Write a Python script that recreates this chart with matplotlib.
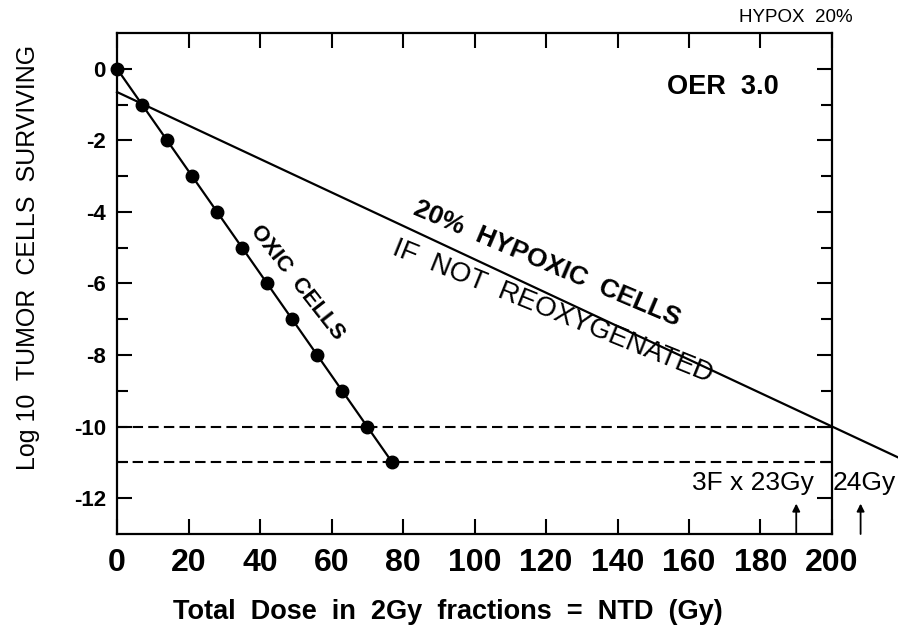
import matplotlib
matplotlib.use('Agg')
import matplotlib.pyplot as plt

plt.rcParams['font.family'] = ['Liberation Sans', 'DejaVu Sans']
plt.rcParams['axes.unicode_minus'] = False

# surviving fraction data (log10)
oxic_dose = [0, 7, 14, 21, 28, 35, 42, 49, 56, 63, 70, 77]
oxic_log = [0, -1, -2, -3, -4, -5, -6, -7, -8, -9, -10, -11]

hypoxic_dose = [0, 220]
hypoxic_log = [-0.65, -10.93]

target_levels = [-10, -11]
arrow_doses = [190, 208]

x_ticks = [0, 20, 40, 60, 80, 100, 120, 140, 160, 180, 200]
y_ticks = [0, -2, -4, -6, -8, -10, -12]

fig = plt.figure(figsize=(8.98, 6.27), dpi=100)
ax = fig.add_axes([0.1303, 0.1483, 0.7962, 0.7991])

ax.set_xlim(0, 200)
ax.set_ylim(-13, 1)

# oxic curve
ax.plot(oxic_dose, oxic_log, color='black', lw=1.6, marker='o', ms=9,
        zorder=3, clip_on=False)

# hypoxic line, runs past the frame
ax.plot(hypoxic_dose, hypoxic_log, color='black', lw=1.6, clip_on=False)

# dashed target levels
ax.hlines(target_levels, 0, 200, colors='black', lw=1.5,
          linestyles=[(0, (5, 2.5))])

for d in arrow_doses:
    ax.annotate('', xy=(d, -12.15), xytext=(d, -13),
                arrowprops=dict(arrowstyle='-|>', color='black', lw=1.3,
                                mutation_scale=11, shrinkA=0, shrinkB=0),
                annotation_clip=False)

# text annotations
ax.text(169.5, -0.5, 'OER  3.0', fontsize=19.5, fontweight='bold',
        ha='center', va='center')
ax.text(120.3, -5.45, '20%  HYPOXIC  CELLS', fontsize=19, fontweight='bold',
        rotation=-23, rotation_mode='anchor', ha='center', va='center')
ax.text(121.7, -6.78, 'IF  NOT  REOXYGENATED', fontsize=20,
        rotation=-22, rotation_mode='anchor', ha='center', va='center')
ax.text(50.3, -5.97, 'OXIC  CELLS', fontsize=16, fontweight='bold',
        rotation=-52, rotation_mode='anchor', ha='center', va='center')
ax.text(195, -11.57, '3F x 23Gy', fontsize=19, ha='right', va='center')
ax.text(200.3, -11.57, '24Gy', fontsize=19, ha='left', va='center')
fig.text(0.949, 0.972, 'HYPOX  20%', fontsize=13.5, ha='right', va='center')

# ticks
ax.set_xticks(x_ticks)
ax.set_yticks(y_ticks)
ax.set_yticks([-1, -3, -5, -7, -9, -11], minor=True)
ax.tick_params(axis='x', which='major', direction='in', top=True,
               length=11, width=1.5, labelsize=23, pad=10)
ax.tick_params(axis='y', which='major', direction='in', right=True,
               length=11, width=1.5, labelsize=16, pad=8)
ax.tick_params(axis='y', which='minor', direction='in', right=True,
               length=8, width=1.5)
for lab in ax.get_xticklabels() + ax.get_yticklabels():
    lab.set_fontweight('bold')

for s in ax.spines.values():
    s.set_linewidth(1.6)

ax.set_xlabel('Total  Dose  in  2Gy  fractions  =  NTD  (Gy)', fontsize=19.5,
              fontweight='bold', va='center')
ax.xaxis.set_label_coords(0.463, -0.156)
ax.set_ylabel('Log 10  TUMOR  CELLS  SURVIVING', fontsize=18, va='center')
ax.yaxis.set_label_coords(-0.1245, 0.553)

fig.savefig('out.png', dpi=100)
